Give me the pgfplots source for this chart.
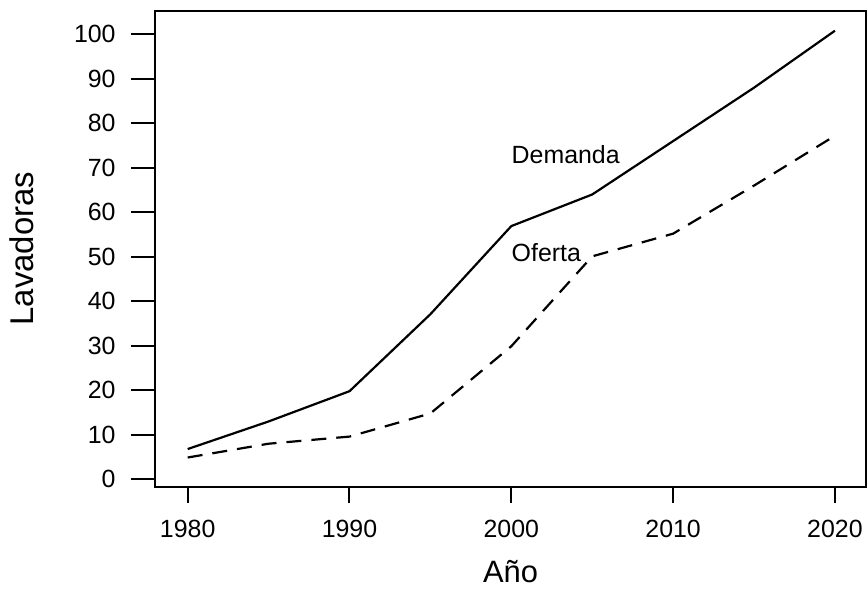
\documentclass[border=0pt]{standalone}
\usepackage{fontspec}
\setmainfont{Liberation Sans}
\usepackage{pgfplots}
\pgfplotsset{compat=1.18}
\begin{document}
\begin{tikzpicture}
\pgfplotsset{
  mybase/.style={
    at={(0,0)}, anchor=south west,
    scale only axis,
    width=355.5bp, height=238bp,
    xmin=1977.98, xmax=2021.92,
    ymin=-1.66, ymax=105.3,
    axis line style={line width=1bp},
    every tick/.style={line width=1bp, black},
    tick align=outside,
    xtick pos=bottom, ytick pos=left,
    /pgf/number format/assume math mode=true,
    /pgf/number format/1000 sep={},
    ticklabel style={font=\fontsize{12.5}{15}\selectfont, inner sep=0pt},
  }
}
\begin{axis}[
  mybase,
  major tick length=12bp,
  xtick=\empty,
  ytick={0,10,20,30,40,50,60,70,80,90,100},
  yticklabel style={anchor=east, xshift=-7.5bp},
  ylabel={Lavadoras},
  ylabel style={font=\fontsize{16.5}{19}\selectfont, inner sep=0pt, at={(axis description cs:-0.187,0.5)}, anchor=center},
]
\addplot[line width=1.1bp, black] coordinates {
  (1980,6.8) (1985,13) (1990,19.8) (1995,37.1) (2000,56.9) (2005,64) (2010,76) (2015,88) (2020,100.8)
};
\addplot[line width=1.1bp, black, dash pattern=on 7.5bp off 5bp] coordinates {
  (1980,4.9) (1985,8) (1990,9.6) (1995,14.8) (2000,29.9) (2005,50.1) (2010,55.2) (2015,66) (2020,77.2)
};
\node[anchor=west, inner sep=0pt, font=\fontsize{12.5}{15}\selectfont] at (axis cs:2000,73) {Demanda};
\node[anchor=west, inner sep=0pt, font=\fontsize{12.5}{15}\selectfont] at (axis cs:2000,51) {Oferta};
\end{axis}
\begin{axis}[
  mybase,
  major tick length=8bp,
  ytick=\empty,
  xtick={1980,1990,2000,2010,2020},
  xticklabel style={anchor=north, yshift=-8.5bp},
  xlabel={Año},
  xlabel style={font=\fontsize{15.5}{18}\selectfont, inner sep=0pt, at={(axis description cs:0.5,-0.179)}, anchor=center},
]
\end{axis}
\useasboundingbox (-77.5bp,-51.65bp) rectangle (356bp,243.35bp);
\end{tikzpicture}
\end{document}
